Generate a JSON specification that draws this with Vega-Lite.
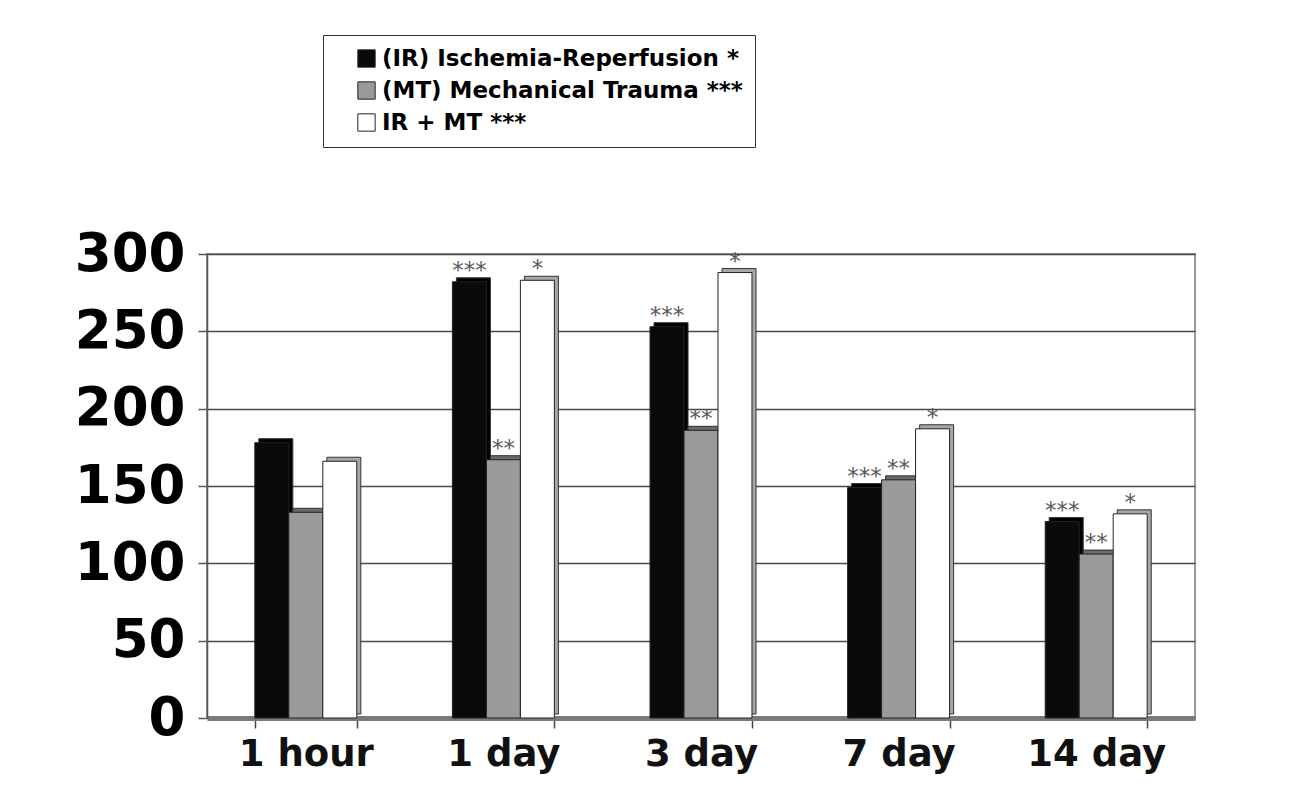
{
  "$schema": "https://vega.github.io/schema/vega-lite/v6.json",
  "width": 988,
  "height": 464,
  "autosize": {"type": "none"},
  "padding": {"left": 207, "top": 254, "right": 103, "bottom": 75},
  "background": "white",
  "config": {
    "view": {"stroke": "#9a9a9a", "strokeWidth": 2},
    "font": "DejaVu Sans"
  },
  "data": {
    "values": [
      {"time": "1 hour", "group": "(IR) Ischemia-Reperfusion *", "value": 178, "sig": ""},
      {"time": "1 hour", "group": "(MT) Mechanical Trauma ***", "value": 133, "sig": ""},
      {"time": "1 hour", "group": "IR + MT ***", "value": 166, "sig": ""},
      {"time": "1 day", "group": "(IR) Ischemia-Reperfusion *", "value": 282, "sig": "***"},
      {"time": "1 day", "group": "(MT) Mechanical Trauma ***", "value": 167, "sig": "**"},
      {"time": "1 day", "group": "IR + MT ***", "value": 283, "sig": "*"},
      {"time": "3 day", "group": "(IR) Ischemia-Reperfusion *", "value": 253, "sig": "***"},
      {"time": "3 day", "group": "(MT) Mechanical Trauma ***", "value": 186, "sig": "**"},
      {"time": "3 day", "group": "IR + MT ***", "value": 288, "sig": "*"},
      {"time": "7 day", "group": "(IR) Ischemia-Reperfusion *", "value": 149, "sig": "***"},
      {"time": "7 day", "group": "(MT) Mechanical Trauma ***", "value": 154, "sig": "**"},
      {"time": "7 day", "group": "IR + MT ***", "value": 187, "sig": "*"},
      {"time": "14 day", "group": "(IR) Ischemia-Reperfusion *", "value": 127, "sig": "***"},
      {"time": "14 day", "group": "(MT) Mechanical Trauma ***", "value": 106, "sig": "**"},
      {"time": "14 day", "group": "IR + MT ***", "value": 132, "sig": "*"}
    ]
  },
  "encoding": {
    "x": {
      "field": "time",
      "type": "nominal",
      "sort": ["1 hour", "1 day", "3 day", "7 day", "14 day"],
      "scale": {"paddingInner": 0.484, "paddingOuter": 0.242},
      "axis": {
        "title": null,
        "labelAngle": 0,
        "labelFont": "DejaVu Sans",
        "labelFontWeight": "bold",
        "labelFontSize": 37,
        "labelColor": "#111",
        "labelPadding": 8,
        "tickBand": "extent",
        "tickSize": 10,
        "tickColor": "#444",
        "tickWidth": 1.5,
        "domainColor": "#7a7a7a",
        "domainWidth": 5,
        "grid": false
      }
    },
    "y": {
      "field": "value",
      "type": "quantitative",
      "scale": {"domain": [0, 300]},
      "axis": {
        "title": null,
        "values": [0, 50, 100, 150, 200, 250, 300],
        "labelFont": "DejaVu Sans",
        "labelFontWeight": "bold",
        "labelFontSize": 53,
        "labelColor": "#000",
        "labelPadding": 13,
        "tickSize": 9,
        "tickColor": "#555",
        "tickWidth": 1.5,
        "domainColor": "#555",
        "domainWidth": 1.5,
        "grid": true,
        "gridColor": "#4a4a4a",
        "gridWidth": 1.3
      }
    }
  },
  "layer": [
    {
      "mark": {"type": "bar", "yOffset": -4, "stroke": "#333", "strokeWidth": 1},
      "encoding": {
        "xOffset": {
          "field": "group",
          "type": "nominal",
          "sort": ["(IR) Ischemia-Reperfusion *", "(MT) Mechanical Trauma ***", "IR + MT ***"],
          "scale": {"paddingInner": 0, "paddingOuter": 0, "range": [4, 106]}
        },
        "color": {
          "field": "group",
          "type": "nominal",
          "sort": ["(IR) Ischemia-Reperfusion *", "(MT) Mechanical Trauma ***", "IR + MT ***"],
          "scale": {"range": ["#000000", "#6a6a6a", "#a8a8a8"]},
          "legend": null
        }
      }
    },
    {
      "encoding": {
        "xOffset": {
          "field": "group",
          "type": "nominal",
          "sort": ["(IR) Ischemia-Reperfusion *", "(MT) Mechanical Trauma ***", "IR + MT ***"],
          "scale": {"paddingInner": 0, "paddingOuter": 0}
        }
      },
      "layer": [
        {
          "mark": {"type": "bar", "stroke": "#222", "strokeWidth": 1},
          "encoding": {
            "fill": {
              "field": "group",
              "type": "nominal",
              "sort": ["(IR) Ischemia-Reperfusion *", "(MT) Mechanical Trauma ***", "IR + MT ***"],
              "scale": {"range": ["#0a0a0a", "#9a9a9a", "#ffffff"]},
              "legend": {
                "title": null,
                "orient": "none",
                "legendX": 116,
                "legendY": -219,
                "direction": "vertical",
                "strokeColor": "#333",
                "fillColor": "#ffffff",
                "padding": 12,
                "symbolOffset": 20,
                "symbolType": "square",
                "symbolSize": 300,
                "symbolStrokeColor": "#222",
                "symbolStrokeWidth": 1,
                "labelFont": "DejaVu Sans",
                "labelFontWeight": "bold",
                "labelFontSize": 23,
                "labelColor": "#000",
                "labelLimit": 600,
                "rowPadding": 8
              }
            }
          }
        },
        {
          "mark": {"type": "text", "baseline": "alphabetic", "dy": -4, "fontSize": 23, "color": "#5a5a5a", "font": "DejaVu Sans"},
          "encoding": {"text": {"field": "sig"}}
        }
      ]
    }
  ],
  "resolve": {"scale": {"color": "independent", "fill": "independent", "xOffset": "independent"}}
}
